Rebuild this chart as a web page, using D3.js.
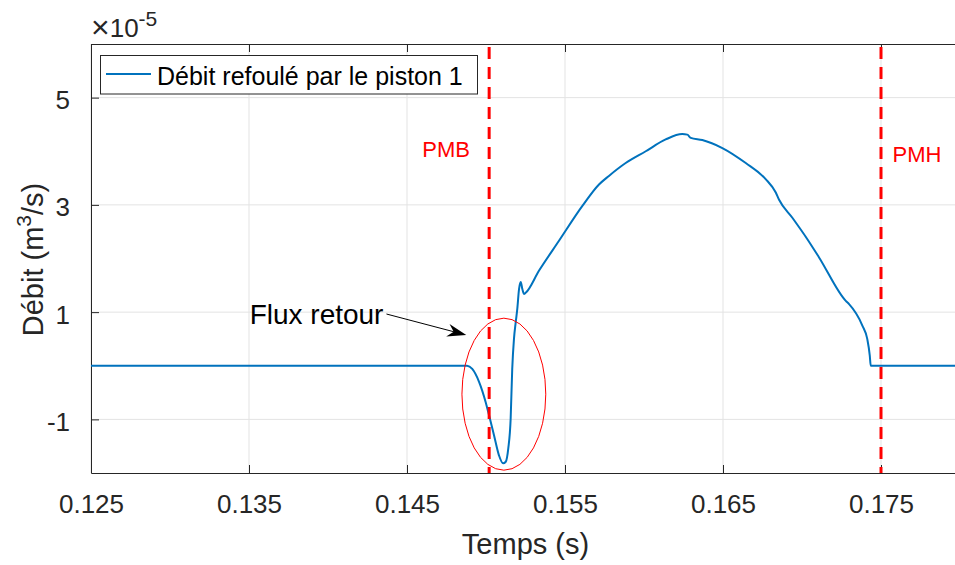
<!DOCTYPE html>
<html>
<head>
<meta charset="utf-8">
<script src="https://cdn.jsdelivr.net/npm/d3@7"></script>
<style>
  html, body { margin: 0; padding: 0; background: #fff; }
  svg { display: block; font-family: "Liberation Sans", Arial, sans-serif; }
</style>
</head>
<body>
<svg id="chart" width="955" height="565"></svg>
<script>
// ---- Data (values ×1e-5 m^3/s) ----
const time = [0.125, 0.1488, 0.14913, 0.14956, 0.14998, 0.15019, 0.15051, 0.15082, 0.15108, 0.15125,
  0.15141, 0.15156, 0.15166, 0.15177, 0.15188, 0.15198, 0.15209, 0.15220, 0.15230, 0.15240,
  0.15251, 0.15335, 0.15462, 0.15610, 0.15715, 0.15778, 0.15884, 0.16011, 0.16137, 0.16242,
  0.16274, 0.16296, 0.16369, 0.16496, 0.16644, 0.16770, 0.16834, 0.16854, 0.16939, 0.17034,
  0.17108, 0.17277, 0.17298, 0.17382, 0.17413, 0.17429, 0.17435, 0.18];
const debit = [0, 0, -0.06, -0.30, -0.68, -0.92, -1.30, -1.67, -1.82, -1.79,
  -1.54, -0.99, -0.06, 0.50, 0.81, 1.06, 1.43, 1.56, 1.43, 1.34,
  1.36, 1.77, 2.33, 2.98, 3.38, 3.54, 3.78, 4.00, 4.22, 4.32,
  4.31, 4.25, 4.21, 4.06, 3.78, 3.48, 3.23, 3.10, 2.76, 2.36,
  2.02, 1.21, 1.15, 0.75, 0.50, 0.19, 0, 0];
const xTicks = [0.125, 0.135, 0.145, 0.155, 0.165, 0.175];
const xTickLabels = ["0.125", "0.135", "0.145", "0.155", "0.165", "0.175"];
const yTicks = [-1, 1, 3, 5];
const yTickLabels = ["-1", "1", "3", "5"];
const markerTimes = [0.1502, 0.175];
const markerLabels = ["PMB", "PMH"];
const markerLabelPos = [[0.14597, 3.89], [0.17573, 3.80]];
const ellipseCenter = [0.15113, -0.53];
const ellipseRadii = [0.002653, 1.417];
const arrowFrom = [0.14370, 0.965];
const arrowTo = [0.14875, 0.573];
const arrowLabel = "Flux retour";
const arrowLabelPos = [0.13504, 0.779];
const legendLabel = "Débit refoulé par le piston 1";

// ---- Layout ----
const svg = d3.select("#chart");
const mLeft = 91, mRight = 960, mTop = 44, mBottom = 473;
const x = d3.scaleLinear().domain([0.125, 0.18]).range([mLeft, mRight]);
const y = d3.scaleLinear().domain([-2, 6]).range([mBottom, mTop]);
const axisColor = "#262626";
const blue = "#0072BD";

svg.append("rect").attr("width", 955).attr("height", 565).attr("fill", "#fff");

// grid
const grid = svg.append("g");
grid.selectAll("line.gx").data(xTicks).enter().append("line")
  .attr("x1", d => x(d)).attr("x2", d => x(d)).attr("y1", mTop).attr("y2", mBottom)
  .attr("stroke", "#e3e3e3").attr("stroke-width", 1);
grid.selectAll("line.gy").data(yTicks).enter().append("line")
  .attr("x1", mLeft).attr("x2", mRight).attr("y1", d => y(d)).attr("y2", d => y(d))
  .attr("stroke", "#e3e3e3").attr("stroke-width", 1);

// axes (box, inward ticks)
const tickLen = 8;
const axB = svg.append("g").attr("transform", `translate(0,${mBottom})`)
  .call(d3.axisBottom(x).tickValues(xTicks).tickFormat((d, i) => xTickLabels[i]).tickSizeInner(-tickLen).tickSizeOuter(0).tickPadding(20));
const axT = svg.append("g").attr("transform", `translate(0,${mTop})`)
  .call(d3.axisTop(x).tickValues(xTicks).tickFormat("").tickSizeInner(-tickLen).tickSizeOuter(0));
const axL = svg.append("g").attr("transform", `translate(${mLeft},0)`)
  .call(d3.axisLeft(y).tickValues(yTicks).tickFormat((d, i) => yTickLabels[i]).tickSizeInner(-tickLen).tickSizeOuter(0).tickPadding(21));
[axB, axT, axL].forEach(a => {
  a.select(".domain").attr("stroke", axisColor).attr("stroke-width", 1);
  a.selectAll(".tick line").attr("stroke", axisColor).attr("stroke-width", 1);
  a.selectAll(".tick text").attr("fill", axisColor).attr("font-size", 26)
    .attr("font-family", "'Liberation Sans', Arial, sans-serif");
});
axB.selectAll(".tick text").attr("dy", "0.71em").attr("y", 22);
axL.selectAll(".tick text").attr("dy", "0.42em");

// data line
const line = d3.line().x((d, i) => x(time[i])).y(d => y(d)).curve(d3.curveMonotoneX);
svg.append("path").datum(debit).attr("d", line)
  .attr("fill", "none").attr("stroke", blue).attr("stroke-width", 2).attr("stroke-linejoin", "round");

// dashed marker lines
svg.selectAll("line.marker").data(markerTimes).enter().append("line")
  .attr("x1", d => x(d)).attr("x2", d => x(d)).attr("y1", mTop + 3).attr("y2", mBottom)
  .attr("stroke", "#ff0000").attr("stroke-width", 3).attr("stroke-dasharray", "12,8");
svg.selectAll("text.marker").data(markerLabels).enter().append("text")
  .attr("x", (d, i) => x(markerLabelPos[i][0])).attr("y", (d, i) => y(markerLabelPos[i][1]))
  .attr("fill", "#ff0000").attr("font-size", 22).text(d => d);

// ellipse
svg.append("ellipse")
  .attr("cx", x(ellipseCenter[0])).attr("cy", y(ellipseCenter[1]))
  .attr("rx", x(ellipseCenter[0] + ellipseRadii[0]) - x(ellipseCenter[0]))
  .attr("ry", y(ellipseCenter[1] - ellipseRadii[1]) - y(ellipseCenter[1]))
  .attr("fill", "none").attr("stroke", "#ff0000").attr("stroke-width", 1);

// arrow
const ax0 = x(arrowFrom[0]), ay0 = y(arrowFrom[1]), ax1 = x(arrowTo[0]), ay1 = y(arrowTo[1]);
const L = Math.hypot(ax1 - ax0, ay1 - ay0), ux = (ax1 - ax0) / L, uy = (ay1 - ay0) / L;
const nx = -uy, ny = ux;
svg.append("line").attr("x1", ax0).attr("y1", ay0).attr("x2", ax1 - 10 * ux).attr("y2", ay1 - 10 * uy)
  .attr("stroke", "#000").attr("stroke-width", 1);
const head = [
  [ax1, ay1],
  [ax1 - 19 * ux + 6.5 * nx, ay1 - 19 * uy + 6.5 * ny],
  [ax1 - 13 * ux, ay1 - 13 * uy],
  [ax1 - 19 * ux - 6.5 * nx, ay1 - 19 * uy - 6.5 * ny]
];
svg.append("path").attr("d", "M" + head.map(p => p.join(",")).join("L") + "Z").attr("fill", "#000");
svg.append("text").attr("x", x(arrowLabelPos[0])).attr("y", y(arrowLabelPos[1]))
  .attr("font-size", 28).attr("fill", "#000").text(arrowLabel);

// legend
const lg = svg.append("g");
lg.append("rect").attr("x", 100.5).attr("y", 55.5).attr("width", 377).attr("height", 38.5)
  .attr("fill", "#fff").attr("stroke", axisColor).attr("stroke-width", 1);
lg.append("line").attr("x1", 106).attr("x2", 151).attr("y1", 74).attr("y2", 74)
  .attr("stroke", blue).attr("stroke-width", 2);
lg.append("text").attr("x", 157).attr("y", 85).attr("font-size", 25).attr("fill", "#000").text(legendLabel);

// exponent label
const ex = svg.append("text").attr("x", 91).attr("y", 37).attr("font-size", 26).attr("fill", axisColor);
ex.append("tspan").attr("font-size", 32).attr("dy", 1).text("×");
ex.append("tspan").attr("dy", -1).text("10");
ex.append("tspan").attr("font-size", 21).attr("dy", -11).text("-5");

// axis labels
svg.append("text").attr("x", (mLeft + mRight) / 2).attr("y", 554).attr("text-anchor", "middle")
  .attr("font-size", 29).attr("fill", axisColor).text("Temps (s)");
const yl = svg.append("text").attr("transform", `translate(43,${(mTop + mBottom) / 2 + 1}) rotate(-90)`)
  .attr("text-anchor", "middle").attr("font-size", 29).attr("fill", axisColor);
yl.append("tspan").text("Débit (m");
yl.append("tspan").attr("font-size", 21).attr("dy", -12).text("3");
yl.append("tspan").attr("dy", 12).text("/s)");
</script>
</body>
</html>
